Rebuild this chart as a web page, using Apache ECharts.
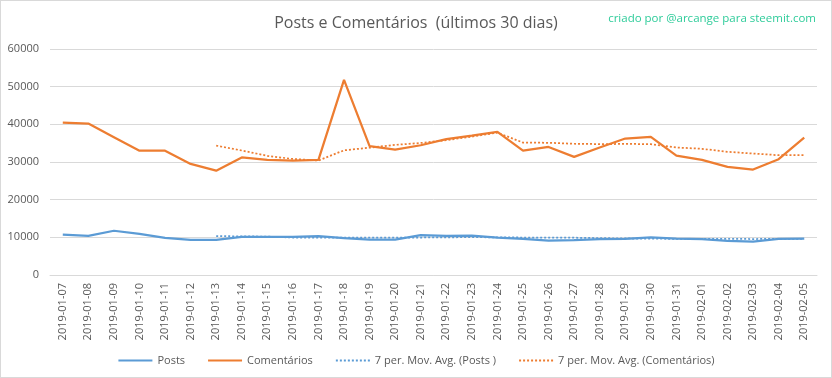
<!DOCTYPE html>
<html>
<head>
<meta charset="utf-8">
<script src="https://cdn.jsdelivr.net/npm/echarts@6/dist/echarts.min.js"></script>
<style>
    html, body { margin: 0; padding: 0; background: #fff; }
    #chartBox {
        width: 832px;
        height: 378px;
        box-sizing: border-box;
        border: 1px solid #d9d9d9;
    }
</style>
</head>
<body>
<div id="chartBox"></div>
<script>
// categorias (dias)
const dias = ['2019-01-07', '2019-01-08', '2019-01-09', '2019-01-10', '2019-01-11', '2019-01-12', '2019-01-13',
    '2019-01-14', '2019-01-15', '2019-01-16', '2019-01-17', '2019-01-18', '2019-01-19', '2019-01-20',
    '2019-01-21', '2019-01-22', '2019-01-23', '2019-01-24', '2019-01-25', '2019-01-26', '2019-01-27',
    '2019-01-28', '2019-01-29', '2019-01-30', '2019-01-31', '2019-02-01', '2019-02-02', '2019-02-03',
    '2019-02-04', '2019-02-05'];

const posts = [10700, 10400, 11750, 10900, 9850, 9300, 9300, 10150, 10150, 10100, 10300, 9800, 9400, 9400,
    10600, 10400, 10450, 9950, 9600, 9100, 9250, 9550, 9600, 10000, 9650, 9500, 9050, 8850, 9600, 9650];

const comentarios = [40450, 40200, 36600, 33000, 33000, 29500, 27700, 31200, 30560, 30380, 30560, 51800, 34200, 33300,
    34450, 36050, 37000, 38000, 33030, 34000, 31360, 33850, 36230, 36670, 31700, 30560, 28700, 27990, 30740, 36490];

// médias móveis de 7 períodos
const mmPosts = [null, null, null, null, null, null, 10350, 10250, 10200, 9950, 9900, 9900, 9900, 9900,
    9950, 10000, 10050, 10000, 9950, 9950, 9900, 9800, 9700, 9650, 9600, 9600, 9600, 9550, 9600, 9600];

const mmComentarios = [null, null, null, null, null, null, 34350, 33050, 31650, 30800, 30400, 33100, 33800, 34550,
    35050, 35800, 36750, 37800, 35150, 35100, 34850, 34750, 34800, 34750, 33850, 33500, 32700, 32250, 31800, 31850];

const yTicks = [0, 10000, 20000, 30000, 40000, 50000, 60000];

const azul = '#5b9bd5';
const laranja = '#ed7d31';
const cinza = '#595959';
const fonte = '"Open Sans", "Noto Sans", sans-serif';

var chartDom = document.getElementById('chartBox');
var myChart = echarts.init(chartDom);

let option = {
    animation: false,
    title: [
        {
            text: 'Posts e Comentários  (últimos 30 dias)',
            left: 'center',
            top: 9,
            textStyle: { color: cinza, fontSize: 16, fontWeight: 'normal', fontFamily: fonte }
        },
        {
            text: 'criado por @arcange para steemit.com',
            right: 10,
            top: 7,
            textStyle: { color: '#2ecc9a', fontSize: 11.5, fontWeight: 'normal', fontFamily: fonte }
        }
    ],
    legend: {
        left: 'center',
        top: 349,
        itemWidth: 34,
        itemHeight: 10,
        itemGap: 22,
        itemStyle: { opacity: 0 },
        textStyle: { color: cinza, fontSize: 11, fontFamily: fonte },
        data: ['Posts', 'Comentários', '7 per. Mov. Avg. (Posts )', '7 per. Mov. Avg. (Comentários)']
    },
    grid: {
        left: 49,
        right: 14,
        top: 48,
        bottom: 102,
        containLabel: false
    },
    xAxis: {
        type: 'category',
        data: dias,
        boundaryGap: true,
        axisLine: { show: true, lineStyle: { color: '#d9d9d9', width: 1 } },
        axisTick: { show: false },
        axisLabel: {
            rotate: 90,
            interval: 0,
            margin: 8,
            color: cinza,
            fontSize: 11,
            fontFamily: fonte
        }
    },
    yAxis: {
        type: 'value',
        min: yTicks[0],
        max: yTicks[yTicks.length - 1],
        interval: yTicks[1] - yTicks[0],
        axisLine: { show: false },
        axisTick: { show: false },
        splitLine: { lineStyle: { color: '#d9d9d9', width: 1 } },
        axisLabel: {
            color: cinza,
            fontSize: 11,
            margin: 11,
            fontFamily: fonte,
            formatter: function (v) { return String(v); }
        }
    },
    series: [
        {
            name: 'Posts',
            type: 'line',
            data: posts,
            symbol: 'none',
            itemStyle: { color: azul },
            lineStyle: { color: azul, width: 2.25 },
            z: 3
        },
        {
            name: 'Comentários',
            type: 'line',
            data: comentarios,
            symbol: 'none',
            itemStyle: { color: laranja },
            lineStyle: { color: laranja, width: 2.25 },
            z: 3
        },
        {
            name: '7 per. Mov. Avg. (Posts )',
            type: 'line',
            data: mmPosts,
            symbol: 'none',
            itemStyle: { color: azul },
            lineStyle: { color: azul, width: 1.75, type: [2, 2] },
            z: 4
        },
        {
            name: '7 per. Mov. Avg. (Comentários)',
            type: 'line',
            data: mmComentarios,
            symbol: 'none',
            itemStyle: { color: laranja },
            lineStyle: { color: laranja, width: 1.75, type: [2, 2] },
            z: 4
        }
    ]
};
myChart.setOption(option);
</script>
</body>
</html>
